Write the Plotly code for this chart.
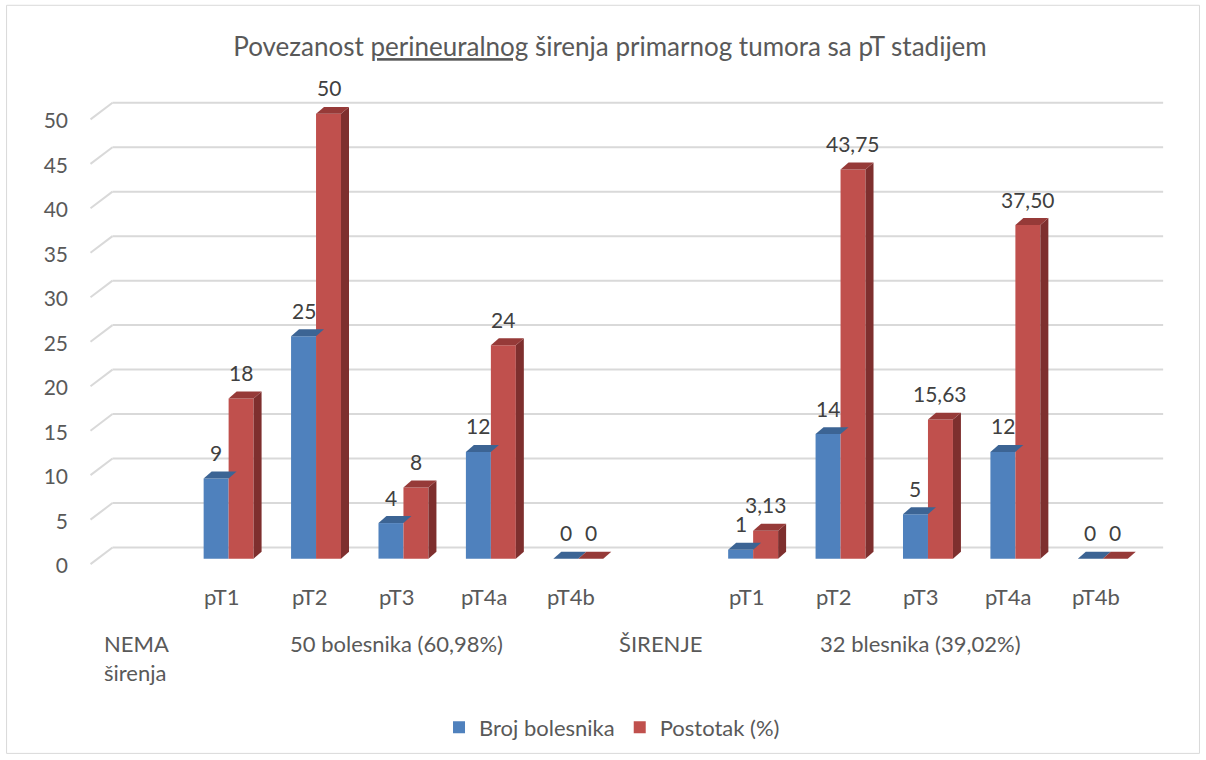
import plotly.graph_objects as go

# ---------------- data ----------------
title_text = "Povezanost <u>perineuralnog</u> širenja primarnog tumora sa pT stadijem"
stages = ["pT1", "pT2", "pT3", "pT4a", "pT4b"]
group_names = ["NEMA<br>širenja", "ŠIRENJE"]
group_notes = ["50 bolesnika (60,98%)", "32 blesnika (39,02%)"]
broj_nema = [9, 25, 4, 12, 0]
broj_sirenje = [1, 14, 5, 12, 0]
postotak_nema = [18, 50, 8, 24, 0]
postotak_sirenje = [3.13, 43.75, 15.63, 37.50, 0]
y_ticks = [0, 5, 10, 15, 20, 25, 30, 35, 40, 45, 50]
series_names = ["Broj bolesnika", "Postotak (%)"]

# ---------------- style ----------------
FONT = "Lato, Carlito, Calibri, sans-serif"
TXT = "#595959"
LBL = "#404040"
BLUE, BLUE_TOP = "#4F81BD", "#3C6494"
RED, RED_TOP, RED_SIDE = "#C0504D", "#963A38", "#7E2F2E"
GRID = "#D9D9D9"

W, H = 1206, 760
SLOT_PX = 87.5          # pixels per category slot
UNIT_PX = 8.93          # pixels per value unit
X_LEFT_PX = 86.5
X0_PX = 97.0            # pixel of x = -0.5
PLOT_TOP, PLOT_BOT = 80, 600
ZERO_PX = 560.5

xr0 = -0.5 - (X0_PX - X_LEFT_PX) / SLOT_PX
xr1 = 11.7
plot_w = (xr1 - xr0) * SLOT_PX
yr1 = (ZERO_PX - PLOT_TOP) / UNIT_PX
yr0 = -(PLOT_BOT - ZERO_PX) / UNIT_PX

BW = 25 / SLOT_PX           # bar width in x units
DX = 8 / SLOT_PX            # depth offset x
DY = 7 / UNIT_PX            # depth offset y

blue_vals = broj_nema + broj_sirenje
red_vals = postotak_nema + postotak_sirenje
slots = [g * 6 + 1 + i for g in range(2) for i in range(len(stages))]
blue_txt = [str(v) for v in broj_nema] + [str(v) for v in broj_sirenje]
red_txt = [str(v) for v in postotak_nema] + \
          [("%.2f" % v).replace(".", ",") if v else "0" for v in postotak_sirenje]

fig = go.Figure()
fig.add_trace(go.Bar(x=slots, y=blue_vals, width=BW, offset=-BW, name=series_names[0],
                     marker=dict(color=BLUE, line=dict(width=0)), hoverinfo="skip"))
fig.add_trace(go.Bar(x=slots, y=red_vals, width=BW, offset=0, name=series_names[1],
                     marker=dict(color=RED, line=dict(width=0)), hoverinfo="skip"))

shapes = []
# back-wall gridlines with left side-wall stub
for v in y_ticks:
    yb = v + 11.2 / UNIT_PX
    shapes.append(dict(type="line", xref="x", yref="y", x0=-0.5 + 15 / SLOT_PX, x1=xr1 - 0.01,
                       y0=yb, y1=yb, line=dict(color=GRID, width=2), layer="below"))
    shapes.append(dict(type="line", xref="x", yref="y", x0=-0.5 - 7 / SLOT_PX, x1=-0.5 + 15 / SLOT_PX,
                       y0=v - 5.5 / UNIT_PX, y1=yb, line=dict(color=GRID, width=2), layer="below"))


def poly(pts):
    return "M " + " L ".join("%f,%f" % p for p in pts) + " Z"


for s, b, r in zip(slots, blue_vals, red_vals):
    # blue top face
    L = s - BW
    shapes.append(dict(type="path", xref="x", yref="y", layer="above", line=dict(width=0),
                       fillcolor=BLUE_TOP,
                       path=poly([(L, b), (L + DX, b + DY), (L + BW + DX, b + DY), (L + BW, b)])))
    # red side + top faces
    L = s
    shapes.append(dict(type="path", xref="x", yref="y", layer="above", line=dict(width=0),
                       fillcolor=RED_SIDE,
                       path=poly([(L + BW, 0), (L + BW + DX, DY), (L + BW + DX, r + DY), (L + BW, r)])))
    shapes.append(dict(type="path", xref="x", yref="y", layer="above", line=dict(width=0),
                       fillcolor=RED_TOP,
                       path=poly([(L, r), (L + DX, r + DY), (L + BW + DX, r + DY), (L + BW, r)])))


def px_to_paper_x(px):
    return (px - X_LEFT_PX) / plot_w


def px_to_paper_y(py):
    return (PLOT_BOT - py) / (PLOT_BOT - PLOT_TOP)


# outer chart border
shapes.append(dict(type="rect", xref="paper", yref="paper",
                   x0=px_to_paper_x(6), x1=px_to_paper_x(1200),
                   y0=px_to_paper_y(756), y1=px_to_paper_y(5),
                   line=dict(color=GRID, width=1), fillcolor="rgba(0,0,0,0)", layer="below"))

NUM_SIZE = 21
TXT_SIZE = 22
ann = []
# data labels
for s, b, r, bt, rt in zip(slots, blue_vals, red_vals, blue_txt, red_txt):
    ann.append(dict(x=s - BW / 2, y=b, xref="x", yref="y", text=bt, showarrow=False,
                    yshift=26, yanchor="middle", font=dict(family=FONT, size=NUM_SIZE, color=LBL)))
    ann.append(dict(x=s + BW / 2, y=r, xref="x", yref="y", text=rt, showarrow=False,
                    yshift=26, yanchor="middle", font=dict(family=FONT, size=NUM_SIZE, color=LBL)))
# stage + group labels
for g in range(2):
    for i, st in enumerate(stages):
        ann.append(dict(x=g * 6 + 1 + i, y=0, xref="x", yref="y", text=st, showarrow=False,
                        xshift=-7, yshift=-37.5, yanchor="middle",
                        font=dict(family=FONT, size=TXT_SIZE, color=TXT)))
    ann.append(dict(x=g * 6, y=0, xref="x", yref="y", text=group_names[g], showarrow=False,
                    xshift=-5, yshift=-(99 if g == 0 else 84.5), yanchor="middle", align="left",
                    font=dict(family=FONT, size=TXT_SIZE, color=TXT)))
    ann.append(dict(x=g * 6 + 3, y=0, xref="x", yref="y", text=group_notes[g], showarrow=False,
                    xshift=-7, yshift=-84.5, yanchor="middle",
                    font=dict(family=FONT, size=TXT_SIZE, color=TXT)))

fig.update_layout(
    width=W, height=H,
    margin=dict(l=X_LEFT_PX, r=W - X_LEFT_PX - plot_w, t=PLOT_TOP, b=H - PLOT_BOT),
    paper_bgcolor="white", plot_bgcolor="white",
    barmode="overlay",
    title=dict(text=title_text, x=610 / W, xref="container", xanchor="center",
               y=1 - 47 / H, yref="container", yanchor="middle",
               font=dict(family=FONT, size=26, color=TXT)),
    xaxis=dict(range=[xr0, xr1], showgrid=False, zeroline=False, showline=False,
               showticklabels=False, ticks="", fixedrange=True),
    yaxis=dict(range=[yr0, yr1], showgrid=False, zeroline=False, showline=False,
               tickvals=y_ticks, ticks="", ticklabelstandoff=18, ticklabelshift=7,
               tickfont=dict(family=FONT, size=21, color=TXT), fixedrange=True),
    legend=dict(orientation="h", x=px_to_paper_x(612), xanchor="center",
                y=px_to_paper_y(730), yanchor="middle",
                font=dict(family=FONT, size=22, color=TXT), itemclick=False),
    shapes=shapes,
    annotations=ann,
    showlegend=True,
)

fig.write_html("out.html", config={"displayModeBar": False, "staticPlot": True},
               post_script="document.body.style.margin='0px';")
